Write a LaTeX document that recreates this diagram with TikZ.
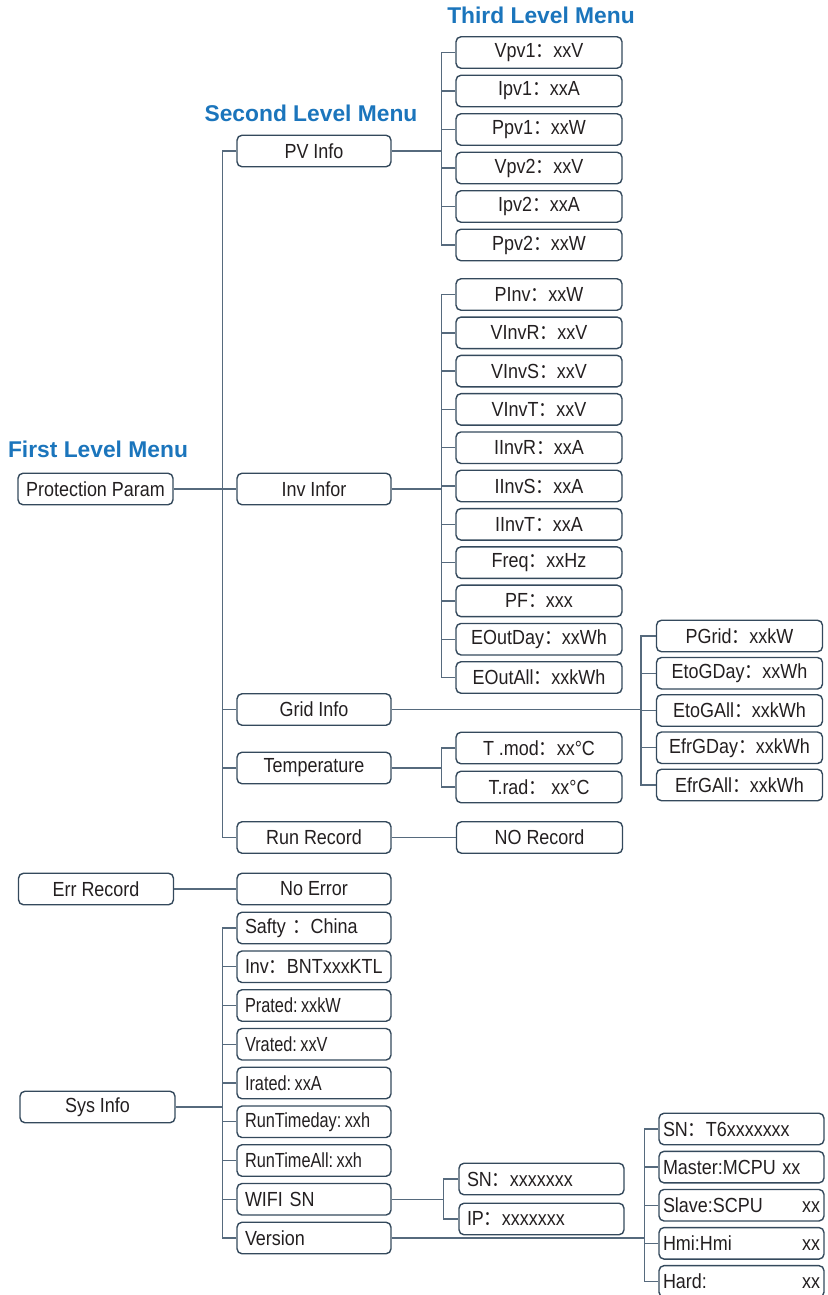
\documentclass[tikz,border=0pt]{standalone}
\usepackage{fontspec}
\setmainfont{Liberation Sans}[FakeStretch=0.88]
\newfontfamily\headfont{Liberation Sans}
\newfontfamily\narrowfont{Liberation Sans}[FakeStretch=0.8]
\newfontfamily\cjk{Noto Sans CJK SC}[FakeStretch=0.88]
\usetikzlibrary{positioning,calc}
\definecolor{MenuBlue}{HTML}{1B75BC}
\definecolor{MenuLine}{HTML}{566A7D}
\definecolor{MenuEdge}{HTML}{34495C}
\definecolor{MenuText}{HTML}{231F20}
\newcommand{\fc}{{\cjk ：}}

\begin{document}
\begin{tikzpicture}[x=0.5pt,y=-0.5pt,
    menubox/.style={draw=MenuEdge,line width=0.7pt,rounded corners=2.5pt,minimum height=15.75pt,
      inner sep=0pt,text=MenuText,font=\fontsize{10.2}{12}\selectfont},
    firstbox/.style={menubox,minimum width=77.5pt},
    secondbox/.style={menubox,minimum width=77pt},
    thirdbox/.style={menubox,minimum width=83pt},
    leftbox/.style={menubox,inner xsep=#1,text width=82.5pt-2*#1,align=left},
    sysbox/.style={menubox,inner xsep=4pt,text width=69pt,align=left},
    heading/.style={text=MenuBlue,font=\headfont\bfseries\fontsize{11.4}{13}\selectfont},
    link/.style={draw=MenuLine,line width=0.7pt}]
  \useasboundingbox (0,0) rectangle (827,1295);

  % headings
  \node[heading] (head3) at (541,15) {Third Level Menu};
  \node[heading] (head2) at (311,113) {Second Level Menu};
  \node[heading] (head1) at (98,449) {First Level Menu};

  % first level
  \node[firstbox] (protparam) at (95.5,489) {Protection Param};
  \node[firstbox] (errrec) at (96,889) {Err Record};
  \node[firstbox] (sysinfo) at (97.5,1107) {Sys Info};

  % second level
  \node[secondbox] (pvinfo) at (314,151) {PV Info};
  \node[secondbox] (invinfo) at (314,489) {Inv Infor};
  \node[secondbox] (gridinfo) at (314,709.5) {Grid Info};
  \node[secondbox] (tempinfo) at (314,768) {Temperature};
  \node[secondbox] (runrec) at (314,837.5) {Run Record};
  \node[secondbox] (noerr) at (314,889) {No Error};
  \node[thirdbox] (norec) at (539.5,837.5) {NO Record};

  % third level
  \foreach \t [count=\i] in {{Vpv1\fc xxV},{Ipv1\fc xxA},{Ppv1\fc xxW},{Vpv2\fc xxV},{Ipv2\fc xxA},{Ppv2\fc xxW}}
    \node[thirdbox] (pv\i) at (539,{52.5+38.5*(\i-1)}) {\t};
  \foreach \t [count=\i] in {{PInv\fc xxW},{VInvR\fc xxV},{VInvS\fc xxV},{VInvT\fc xxV},{IInvR\fc xxA},
      {IInvS\fc xxA},{IInvT\fc xxA},{Freq\fc xxHz},{PF\fc xxx},{EOutDay\fc xxWh},{EOutAll\fc xxkWh}}
    \node[thirdbox] (inv\i) at (539,{294.5+38.3*(\i-1)}) {\t};
  \foreach \t [count=\i] in {{PGrid\fc xxkW},{EtoGDay\fc xxWh},{EtoGAll\fc xxkWh},{EfrGDay\fc xxkWh},{EfrGAll\fc xxkWh}}
    \node[thirdbox] (grid\i) at (739.5,{636+37.25*(\i-1)}) {\t};
  \node[thirdbox] (temp1) at (539,748) {T .mod\fc xx°C};
  \node[thirdbox] (temp2) at (539,787) {T.rad\fc\ xx°C};

  % system info
  \foreach \t [count=\i] in {{Safty \fc China},{Inv\fc BNTxxxKTL},{\narrowfont Prated:\,xxkW},{\narrowfont Vrated:\,xxV},
      {\narrowfont Irated:\,xxA},{\narrowfont RunTimeday:\,xxh},{\narrowfont RunTimeAll:\,xxh},{WIFI SN},{Version}}
    \node[sysbox] (sys\i) at (314,{928+38.75*(\i-1)}) {\t};
  \node[leftbox=4pt] (wifi1) at (541.5,1179) {SN\fc xxxxxxx};
  \node[leftbox=4pt] (wifi2) at (541.5,1219) {IP\fc xxxxxxx};
  \foreach \t [count=\i] in {{SN\fc T6xxxxxxx},{Master:MCPU xx},{Slave:SCPU\hfill xx\hspace{2pt}},
      {Hmi:Hmi\hfill xx\hspace{2pt}},{Hard:\hfill xx\hspace{2pt}}}
    \node[leftbox=2pt] (ver\i) at (741.5,{1129+38.1*(\i-1)}) {\t};

  % buses
  \coordinate (mainbus) at ($(pvinfo.west)+(-14,0)$);
  \coordinate (pvbus) at ($(pv1.west)+(-14,0)$);
  \coordinate (invbus) at ($(inv1.west)+(-14,0)$);
  \coordinate (gridbus) at ($(grid1.west)+(-15,0)$);
  \coordinate (tempbus) at ($(temp1.west)+(-14,0)$);
  \coordinate (sysbus) at ($(sys1.west)+(-14,0)$);
  \coordinate (wifibus) at ($(wifi1.west)+(-15,0)$);
  \coordinate (verbus) at ($(ver1.west)+(-14,0)$);

  % connectors
  \draw[link] (pvinfo.west) -- (mainbus) |- (runrec.west);
  \foreach \n in {gridinfo,tempinfo} \draw[link] (\n.west) -- (\n.west -| mainbus);
  \draw[link] (protparam.east) -- (invinfo.west);

  \draw[link] (pvinfo.east) -- (pvinfo.east -| pvbus);
  \draw[link] (pv1.west) -- (pvbus) |- (pv6.west);
  \foreach \i in {2,...,5} \draw[link] (pv\i.west) -- (pv\i.west -| pvbus);

  \draw[link] (invinfo.east) -- (invinfo.east -| invbus);
  \draw[link] (inv1.west) -- (invbus) |- (inv11.west);
  \foreach \i in {2,...,10} \draw[link] (inv\i.west) -- (inv\i.west -| invbus);

  \draw[link] (gridinfo.east) -- (gridinfo.east -| gridbus);
  \draw[link] (grid1.west) -- (gridbus) |- (grid5.west);
  \foreach \i in {2,...,4} \draw[link] (grid\i.west) -- (grid\i.west -| gridbus);

  \draw[link] (tempinfo.east) -- (tempinfo.east -| tempbus);
  \draw[link] (temp1.west) -- (tempbus) |- (temp2.west);
  \draw[link] (runrec.east) -- (norec.west);
  \draw[link] (errrec.east) -- (noerr.west);

  \draw[link] (sysinfo.east) -- (sysinfo.east -| sysbus);
  \draw[link] (sys1.west) -- (sysbus) |- (sys9.west);
  \foreach \i in {2,...,8} \draw[link] (sys\i.west) -- (sys\i.west -| sysbus);

  \draw[link] (sys8.east) -- (sys8.east -| wifibus);
  \draw[link] (wifi1.west) -- (wifibus) |- (wifi2.west);

  \draw[link] (sys9.east) -- (sys9.east -| verbus);
  \draw[link] (ver1.west) -- (verbus) |- (ver5.west);
  \foreach \i in {2,...,4} \draw[link] (ver\i.west) -- (ver\i.west -| verbus);
\end{tikzpicture}
\end{document}
